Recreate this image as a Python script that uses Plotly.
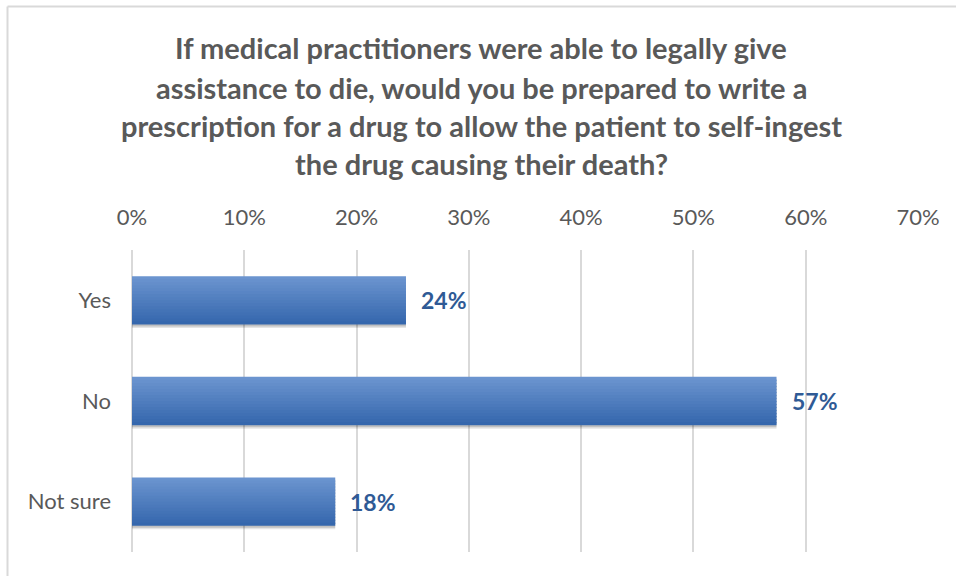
import plotly.graph_objects as go

categories = ["Yes", "No", "Not sure"]
values = [0.244, 0.574, 0.181]
value_labels = ["24%", "57%", "18%"]
tick_values = [0, 0.1, 0.2, 0.3, 0.4, 0.5, 0.6, 0.7]
tick_labels = ["0%", "10%", "20%", "30%", "40%", "50%", "60%", "70%"]
title_lines = [
    "If medical practitioners were able to legally give",
    "assistance to die, would you be prepared to write a",
    "prescription for a drug to allow the patient to self-ingest",
    "the drug causing their death?",
]

W, H = 956, 576
L, R, T, B = 132, 38, 250, 24
plot_h = H - T - B
plot_w = W - L - R

FONT = "Lato"
GRAY = "#595959"

fig = go.Figure()

BAR_W = 0.48

# soft shadow beneath each bar
for k, alpha in [(0.035, 0.10), (0.02, 0.16)]:
    fig.add_trace(go.Bar(
        y=categories, x=values, orientation="h",
        width=BAR_W, offset=-BAR_W / 2 + k,
        marker=dict(color="rgba(0,0,0,%.2f)" % alpha, line=dict(width=0)),
        hoverinfo="skip",
    ))

# vertical gradient in each bar, drawn as thin overlaid strips
N = 16
top_rgb = (0x6B, 0x94, 0xCF)
bot_rgb = (0x35, 0x67, 0xAD)
step = BAR_W / N
for i in range(N):
    f = i / (N - 1)
    rgb = tuple(round(a + (b - a) * f) for a, b in zip(top_rgb, bot_rgb))
    fig.add_trace(go.Bar(
        y=categories, x=values, orientation="h",
        width=step * 1.35 if i < N - 1 else step,
        offset=-BAR_W / 2 + i * step,
        marker=dict(color="rgb(%d,%d,%d)" % rgb, line=dict(width=0)),
        hoverinfo="skip",
    ))

annotations = []
for c, v, t in zip(categories, values, value_labels):
    annotations.append(dict(
        x=v, y=c, xref="x", yref="y", text=t, showarrow=False,
        xanchor="left", yanchor="middle", xshift=13,
        font=dict(family=FONT, size=23, color="#2F5A95", weight="bold"),
    ))

title_centers = [48, 87, 125, 163]
for line, py in zip(title_lines, title_centers):
    annotations.append(dict(
        x=(481 - L) / plot_w, xref="paper", y=(H - B - py) / plot_h, yref="paper",
        xanchor="center", yanchor="middle", showarrow=False,
        text=line,
        font=dict(family=FONT, size=29, color=GRAY, weight="bold"),
    ))

def px_to_paper_x(px):
    return (px - L) / plot_w

def px_to_paper_y(py):
    return (H - B - py) / plot_h

shapes = [
    dict(type="line", xref="paper", yref="paper",
         x0=px_to_paper_x(7.5), x1=px_to_paper_x(W + 5),
         y0=px_to_paper_y(6.5), y1=px_to_paper_y(6.5),
         line=dict(color="#D9D9D9", width=2)),
    dict(type="line", xref="paper", yref="paper",
         x0=px_to_paper_x(7.5), x1=px_to_paper_x(7.5),
         y0=px_to_paper_y(6.5), y1=px_to_paper_y(H + 5),
         line=dict(color="#D9D9D9", width=2)),
]

fig.update_layout(
    width=W, height=H,
    margin=dict(l=L, r=R, t=T, b=B),
    paper_bgcolor="white", plot_bgcolor="white",
    showlegend=False,
    barmode="overlay",
    annotations=annotations,
    shapes=shapes,
    xaxis=dict(
        side="top", range=[0, 0.7],
        tickvals=tick_values, ticktext=tick_labels,
        showgrid=True, gridcolor="#D9D9D9", gridwidth=2,
        zeroline=True, zerolinecolor="#D9D9D9", zerolinewidth=2,
        showline=False, ticks="",
        ticklabelstandoff=20,
        tickfont=dict(family=FONT, size=22, color=GRAY),
        fixedrange=True,
    ),
    yaxis=dict(
        autorange="reversed",
        showgrid=False, zeroline=False, showline=False, ticks="",
        ticklabelstandoff=20,
        tickfont=dict(family=FONT, size=22, color=GRAY),
        fixedrange=True,
    ),
)

fig.write_html(
    "out.html",
    config={"displayModeBar": False},
    post_script="document.body.style.margin='0';document.body.style.overflow='hidden';",
)
